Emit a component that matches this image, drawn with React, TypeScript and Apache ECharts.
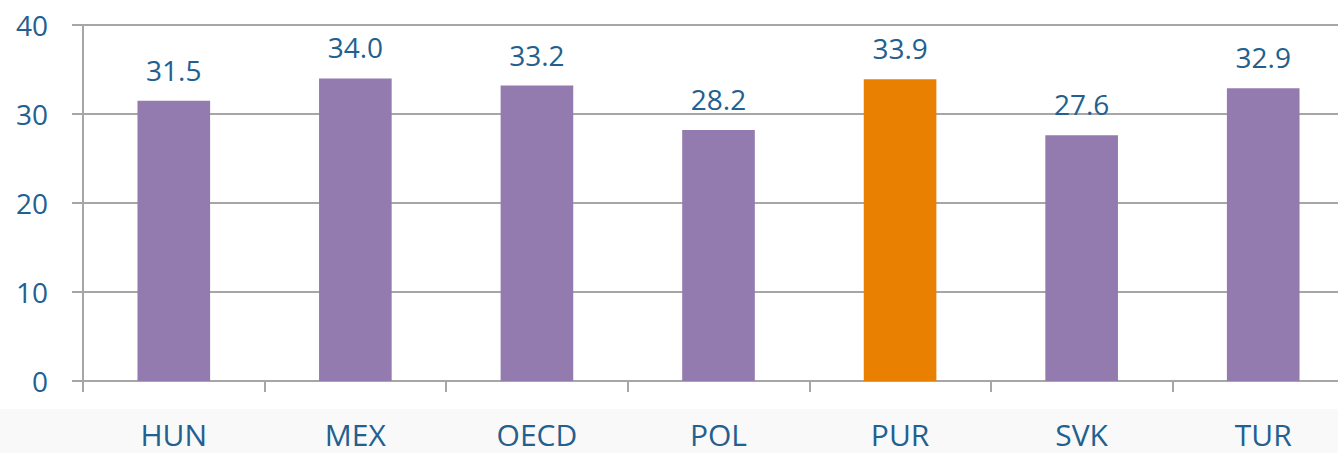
import React, { useEffect, useRef } from "react";
import * as echarts from "echarts";

const categories = ["HUN", "MEX", "OECD", "POL", "PUR", "SVK", "TUR"];
const values = [31.5, 34.0, 33.2, 28.2, 33.9, 27.6, 32.9];
const highlight = "PUR";

const PURPLE = "#937bb0";
const ORANGE = "#ea8002";
const TEXT = "#22608f";
const GRID = "#a6a6a6";

export default function App() {
  const ref = useRef<HTMLDivElement>(null);
  useEffect(() => {
    if (!ref.current) return;
    const chart = echarts.init(ref.current, null, { renderer: "svg" });
    chart.setOption({
      animation: false,
      backgroundColor: "#ffffff",
      graphic: [
        {
          type: "rect",
          left: 0,
          top: 409,
          shape: { width: 1354, height: 44 },
          style: { fill: "#f9f9f9" },
          z: -10,
        },
      ],
      grid: { left: 83, right: 0, top: 25, bottom: 72, containLabel: false },
      xAxis: {
        type: "category",
        data: categories,
        axisLine: { lineStyle: { color: GRID, width: 2 } },
        axisTick: { show: true, length: 11, lineStyle: { color: GRID, width: 2 } },
        axisLabel: {
          color: TEXT,
          fontFamily: "Open Sans",
          fontSize: 30,
          lineHeight: 30,
          margin: 38,
        },
      },
      yAxis: {
        type: "value",
        min: 0,
        max: 40,
        interval: 10,
        axisLine: { show: true, lineStyle: { color: GRID, width: 2 } },
        axisTick: { show: true, length: 11, lineStyle: { color: GRID, width: 2 } },
        splitLine: { lineStyle: { color: GRID, width: 2 } },
        axisLabel: {
          color: TEXT,
          fontFamily: "Open Sans",
          fontSize: 28,
          margin: 35,
        },
      },
      series: [
        {
          type: "bar",
          barWidth: "40%",
          data: values.map((v, i) => ({
            value: v,
            itemStyle: { color: categories[i] === highlight ? ORANGE : PURPLE },
          })),
          label: {
            show: true,
            position: "top",
            distance: 17,
            color: TEXT,
            fontFamily: "Open Sans",
            fontSize: 28,
            formatter: (p: any) => Number(p.value).toFixed(1),
          },
        },
      ],
    });
    return () => chart.dispose();
  }, []);
  return (
    <div style={{ position: "absolute", left: 0, top: 0, width: 1338, height: 453, overflow: "hidden" }}>
      <div ref={ref} style={{ width: 1354, height: 453 }} />
    </div>
  );
}
